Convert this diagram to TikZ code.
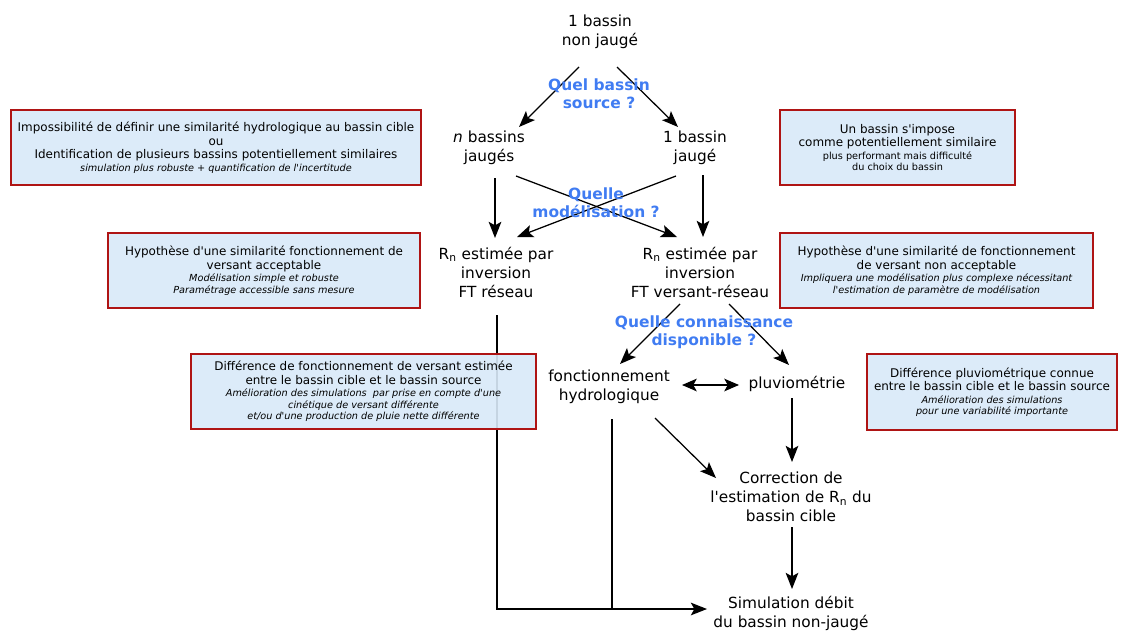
\documentclass[tikz,border=0pt]{standalone}
\usepackage{fontspec}
\setmainfont{DejaVu Sans}[Ligatures=TeXOff]
\usetikzlibrary{arrows.meta, calc, shadows}
\definecolor{cadrerouge}{RGB}{175,20,20}
\definecolor{cadrefond}{RGB}{220,237,253}
\definecolor{questbleu}{RGB}{64,124,242}
\newcommand{\grand}{\fontsize{8.5}{9.6}\selectfont}
\newcommand{\petit}{\fontsize{6.9}{8.2}\selectfont}

\begin{document}
\begin{tikzpicture}[x=0.025cm, y=-0.025cm,
  bloc/.style={align=center, inner sep=0pt, font=\fontsize{10.9}{13.5}\selectfont},
  quest/.style={align=center, inner sep=0pt, text=questbleu, font=\fontsize{11}{12.8}\selectfont\bfseries},
  cadre/.style={draw=cadrerouge, fill=cadrefond, fill opacity=0.88, text opacity=1, line width=0.8pt, align=center, inner sep=0pt, font=\grand, drop shadow={opacity=0.25, shadow xshift=0.5pt, shadow yshift=-0.7pt}},
  arr/.style={-{Stealth[length=11.5pt, width=9pt, inset=2.5pt]}, line width=0.9pt},
  dblarr/.style={{Stealth[length=10.5pt, width=9pt, inset=2.5pt]}-{Stealth[length=10.5pt, width=9pt, inset=2.5pt]}, line width=0.9pt},
  ligne/.style={line width=0.9pt},
]
  \useasboundingbox (0,0) rectangle (1128,631);

  % Main steps
  \node[bloc] (top) at (600,32) {1 bassin\\non jaugé};
  \node[bloc] (nb) at (489,148) {\textit{n} bassins\\jaugés};
  \node[bloc] (ob) at (695,148) {1 bassin\\jaugé};
  \node[bloc] (rnl) at (496,272) {R\textsubscript{n} estimée par\\inversion\\FT réseau};
  \node[bloc] (rnr) at (700,272) {R\textsubscript{n} estimée par\\inversion\\FT versant-réseau};
  \node[bloc] (fonct) at (609,387) {fonctionnement\\hydrologique};
  \node[bloc] (pluvio) at (797,384) {pluviométrie};
  \node[bloc] (corr) at (791,497) {Correction de\\l'estimation de R\textsubscript{n} du\\bassin cible};
  \node[bloc] (sim) at (791,613) {Simulation débit\\du bassin non-jaugé};

  % Arrows
  \draw[arr] ($(top)+(-21,35)$) -- ($(nb)+(30,-21)$);
  \draw[arr] ($(top)+(17,35)$) -- ($(ob)+(-17,-21)$);
  \draw[arr] ($(nb)+(6,30)$) -- ($(rnl)+(-1,-34)$);
  \draw[arr] ($(ob)+(8,27)$) -- ($(rnr)+(3,-35)$);
  \draw[arr] ($(nb)+(27,28)$) -- ($(rnr)+(-23,-35)$);
  \draw[arr] ($(ob)+(-19,28)$) -- ($(rnl)+(21,-35)$);
  \draw[arr] ($(rnr)+(-20,32)$) -- ($(fonct)+(11,-23)$);
  \draw[arr] ($(rnr)+(29,32)$) -- ($(pluvio)+(-8,-19)$);
  \draw[dblarr] ($(fonct)+(73,-2)$) -- ($(pluvio)+(-58,1)$);
  \draw[arr] ($(pluvio)+(-5,14)$) -- ($(corr)+(1,-35)$);
  \draw[arr] ($(fonct)+(46,31)$) -- ($(corr)+(-75,-19)$);
  \draw[arr] ($(corr)+(1,30)$) -- ($(sim)+(1,-24)$);
  \draw[arr] ($(rnl)+(1,43)$) |- ($(sim)+(-84,-4)$);
  \coordinate (jonction) at (612,609);
  \draw[ligne] ($(fonct)+(3,32)$) -- (jonction);

  % Questions
  \node[quest] (q1) at (599,94) {Quel bassin\\source ?};
  \node[quest] (q2) at (596,203) {Quelle\\modélisation ?};
  \node[quest] (q3) at (704,332) {Quelle connaissance\\disponible ?};

  % Boxes
  \node[cadre, minimum width=10.25cm, minimum height=1.875cm] (c1) at (216,147.5)
    {Impossibilité de définir une similarité hydrologique au bassin cible\\ou\\Identification de plusieurs bassins potentiellement similaires\\[-0.7pt]{\petit\itshape simulation plus robuste + quantification de l'incertitude}};
  \node[cadre, minimum width=5.875cm, minimum height=1.875cm] (c2) at (897.5,147.5)
    {Un bassin s'impose\\comme potentiellement similaire\\[-0.7pt]{\petit plus performant mais difficulté}\\[-1.4pt]{\petit du choix du bassin}};
  \node[cadre, minimum width=7.8cm, minimum height=1.875cm] (c3) at (264,270.5)
    {Hypothèse d'une similarité fonctionnement de\\versant acceptable\\[-0.7pt]{\petit\itshape Modélisation simple et robuste}\\[-1.4pt]{\petit\itshape Paramétrage accessible sans mesure}};
  \node[cadre, minimum width=7.825cm, minimum height=1.875cm] (c4) at (936.5,270.5)
    {Hypothèse d'une similarité de fonctionnement\\de versant non acceptable\\[-0.7pt]{\petit\itshape Impliquera une modélisation plus complexe nécessitant}\\[-1.4pt]{\petit\itshape l'estimation de paramètre de modélisation}};
  \node[cadre, minimum width=8.625cm, minimum height=1.875cm] (c5) at (363.5,391.5)
    {Différence de fonctionnement de versant estimée\\entre le bassin cible et le bassin source\\[-0.7pt]{\petit\itshape Amélioration des simulations\ \ par prise en compte d'une}\\[-1.4pt]{\petit\itshape cinétique de versant différente}\\[-1.4pt]{\petit\itshape et/ou d'une production de pluie nette différente}};
  \node[cadre, minimum width=6.25cm, minimum height=1.9cm] (c6) at (992,392)
    {Différence pluviométrique connue\\entre le bassin cible et le bassin source\\[-0.7pt]{\petit\itshape Amélioration des simulations}\\[-1.4pt]{\petit\itshape pour une variabilité importante}};
\end{tikzpicture}
\end{document}
